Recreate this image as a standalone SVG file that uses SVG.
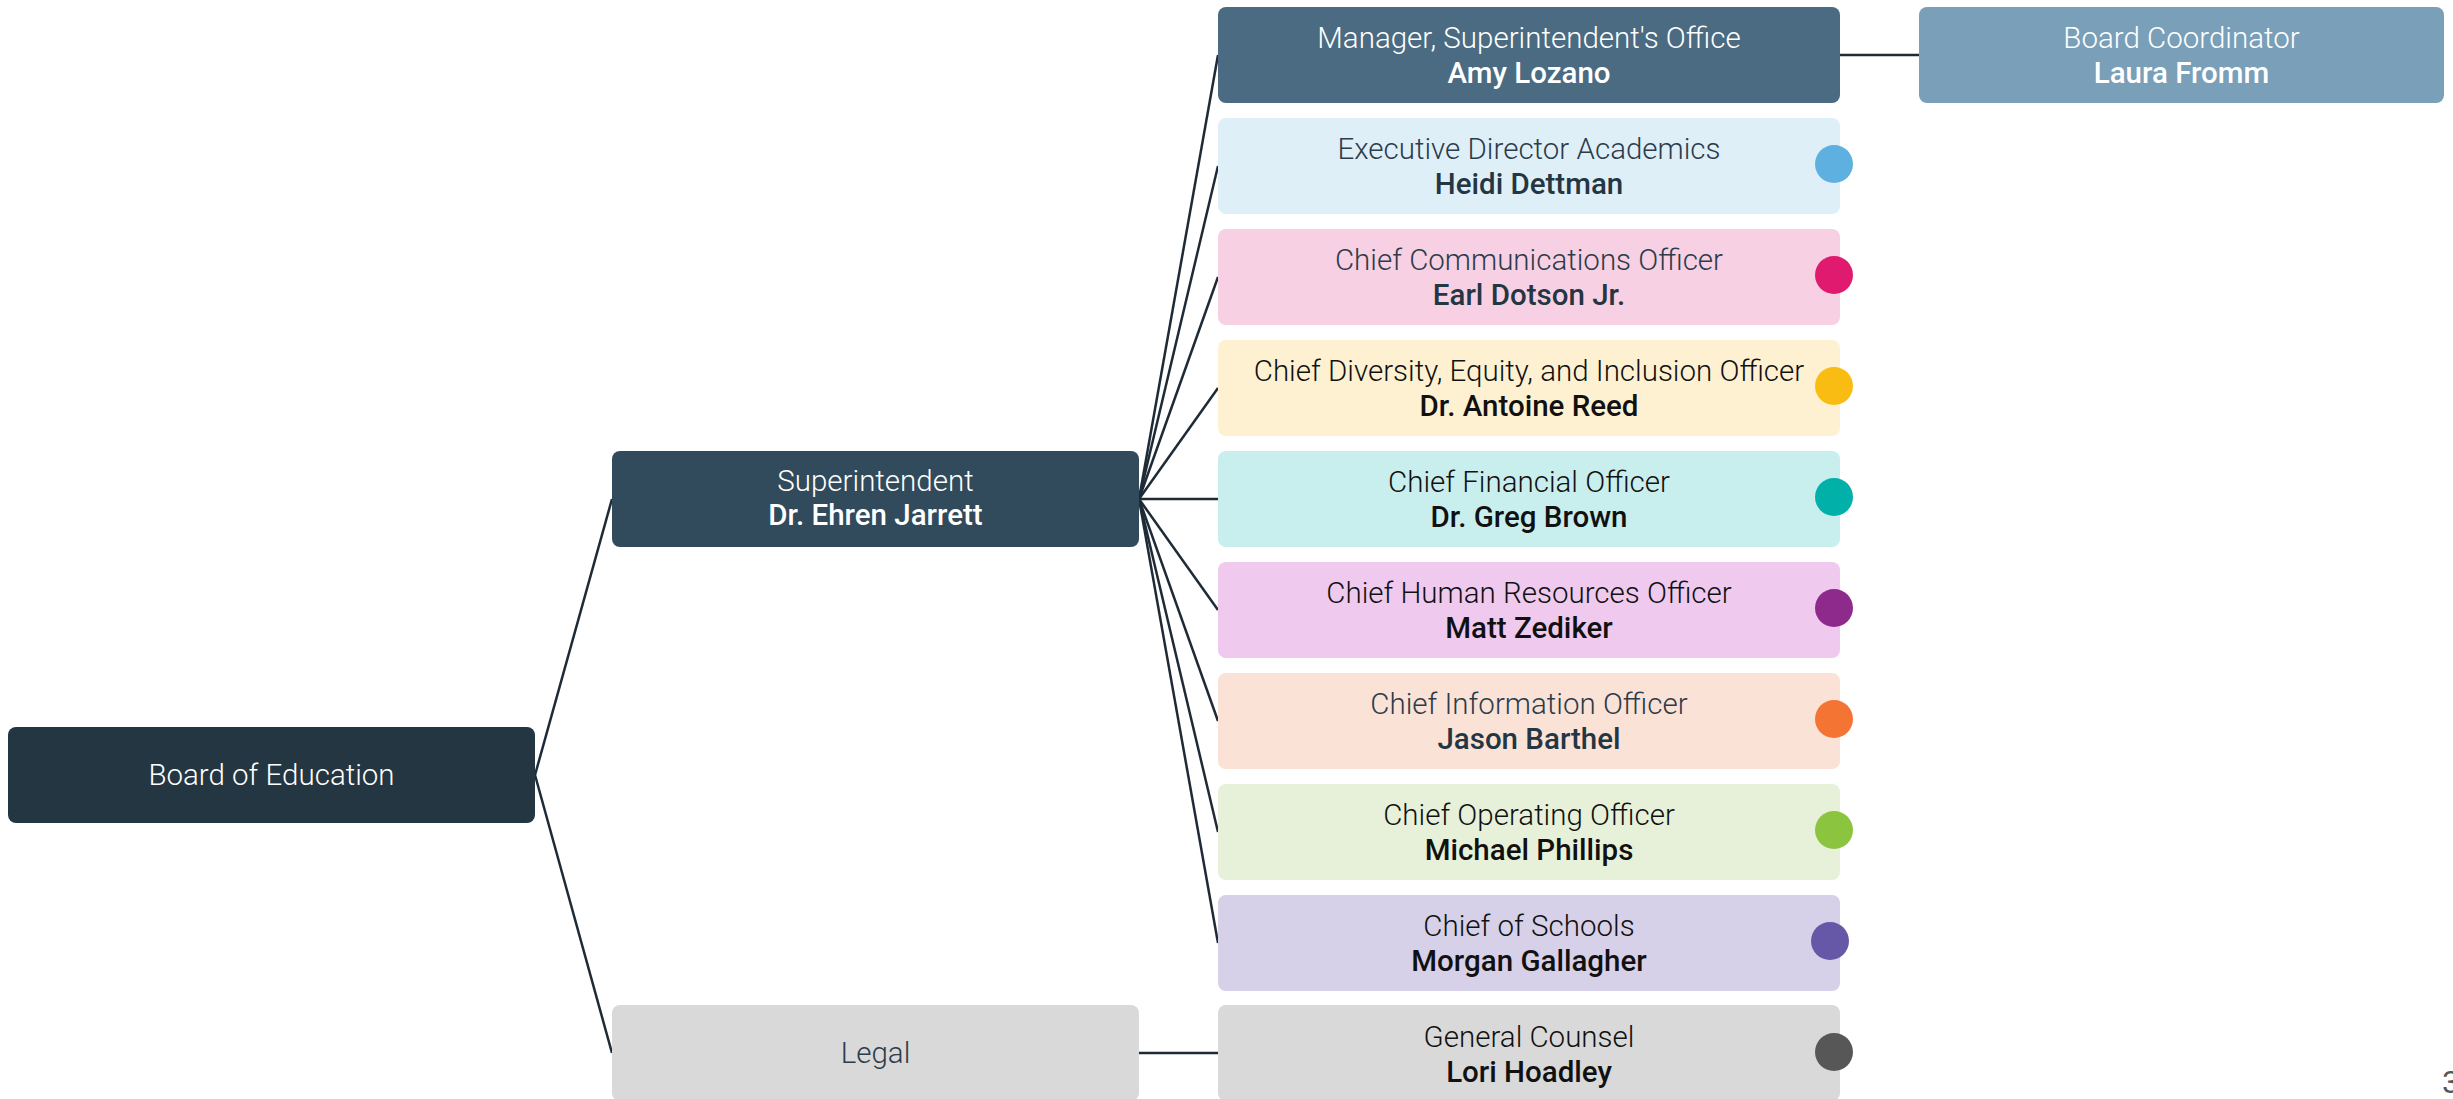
<svg xmlns="http://www.w3.org/2000/svg" width="2453" height="1099" viewBox="0 0 2453 1099">
<style>
.t{font-family:Roboto,"Liberation Sans",sans-serif;font-size:29.5px;font-weight:300;text-anchor:middle}
.n{font-family:Roboto,"Liberation Sans",sans-serif;font-size:29.5px;font-weight:500;text-anchor:middle}
.w{fill:#ffffff}
.d{fill:#2c3c4a}
.dn{fill:#243642}
.k{fill:#111111}
.c{stroke:#1e2b36;stroke-width:2.5;fill:none}
</style>
<rect width="2453" height="1099" fill="#ffffff"/>
<g id="connectors">
<line class="c" x1="535" y1="775" x2="612" y2="499"/>
<line class="c" x1="535" y1="775" x2="612" y2="1053"/>
<line class="c" x1="1139" y1="499" x2="1218" y2="55"/>
<line class="c" x1="1139" y1="499" x2="1218" y2="166"/>
<line class="c" x1="1139" y1="499" x2="1218" y2="277"/>
<line class="c" x1="1139" y1="499" x2="1218" y2="388"/>
<line class="c" x1="1139" y1="499" x2="1218" y2="499"/>
<line class="c" x1="1139" y1="499" x2="1218" y2="610"/>
<line class="c" x1="1139" y1="499" x2="1218" y2="721"/>
<line class="c" x1="1139" y1="499" x2="1218" y2="832"/>
<line class="c" x1="1139" y1="499" x2="1218" y2="943"/>
<line class="c" x1="1840" y1="55" x2="1919" y2="55"/>
<line class="c" x1="1139" y1="1053" x2="1218" y2="1053"/>
</g>
<g id="board">
<rect x="8" y="727" width="527" height="96" rx="8" fill="#243642"/>
<text class="t w" x="271.5" y="785">Board of Education</text>
</g>
<g id="superintendent">
<rect x="612" y="451" width="527" height="96" rx="8" fill="#314a5c"/>
<text class="t w" x="875.5" y="491">Superintendent</text>
<text class="n w" x="875.5" y="525">Dr. Ehren Jarrett</text>
</g>
<g id="legal">
<rect x="612" y="1005" width="527" height="96" rx="8" fill="#d9d9d9"/>
<text class="t d" x="875.5" y="1063">Legal</text>
</g>
<g id="manager">
<rect x="1218" y="7" width="622" height="96" rx="8" fill="#4a6b82"/>
<text class="t w" x="1529" y="48">Manager, Superintendent's Office</text>
<text class="n w" x="1529" y="83">Amy Lozano</text>
</g>
<g id="board-coordinator">
<rect x="1919" y="7" width="525" height="96" rx="8" fill="#7a9fb8"/>
<text class="t w" x="2181.5" y="48">Board Coordinator</text>
<text class="n w" x="2181.5" y="83">Laura Fromm</text>
</g>
<g id="academics">
<rect x="1218" y="118" width="622" height="96" rx="8" fill="#dfeff8"/>
<circle cx="1834" cy="164" r="19" fill="#5eb0e0"/>
<text class="t d" x="1529" y="159">Executive Director Academics</text>
<text class="n dn" x="1529" y="194">Heidi Dettman</text>
</g>
<g id="communications">
<rect x="1218" y="229" width="622" height="96" rx="8" fill="#f8d0e3"/>
<circle cx="1834" cy="275" r="19" fill="#e01a6e"/>
<text class="t d" x="1529" y="270">Chief Communications Officer</text>
<text class="n dn" x="1529" y="305">Earl Dotson Jr.</text>
</g>
<g id="dei">
<rect x="1218" y="340" width="622" height="96" rx="8" fill="#fef1d2"/>
<circle cx="1834" cy="386" r="19" fill="#f8bc12"/>
<text class="t k" x="1529" y="381">Chief Diversity, Equity, and Inclusion Officer</text>
<text class="n k" x="1529" y="416">Dr. Antoine Reed</text>
</g>
<g id="financial">
<rect x="1218" y="451" width="622" height="96" rx="8" fill="#c9eeee"/>
<circle cx="1834" cy="497" r="19" fill="#00b0a9"/>
<text class="t k" x="1529" y="492">Chief Financial Officer</text>
<text class="n k" x="1529" y="527">Dr. Greg Brown</text>
</g>
<g id="hr">
<rect x="1218" y="562" width="622" height="96" rx="8" fill="#efcaee"/>
<circle cx="1834" cy="608" r="19" fill="#8e2a8b"/>
<text class="t k" x="1529" y="603">Chief Human Resources Officer</text>
<text class="n k" x="1529" y="638">Matt Zediker</text>
</g>
<g id="information">
<rect x="1218" y="673" width="622" height="96" rx="8" fill="#fbe2d7"/>
<circle cx="1834" cy="719" r="19" fill="#f47433"/>
<text class="t d" x="1529" y="714">Chief Information Officer</text>
<text class="n dn" x="1529" y="749">Jason Barthel</text>
</g>
<g id="operating">
<rect x="1218" y="784" width="622" height="96" rx="8" fill="#e7f1da"/>
<circle cx="1834" cy="830" r="19" fill="#8bc43f"/>
<text class="t k" x="1529" y="825">Chief Operating Officer</text>
<text class="n k" x="1529" y="860">Michael Phillips</text>
</g>
<g id="schools">
<rect x="1218" y="895" width="622" height="96" rx="8" fill="#d6d0e8"/>
<circle cx="1830" cy="941" r="19" fill="#6658a6"/>
<text class="t k" x="1529" y="936">Chief of Schools</text>
<text class="n k" x="1529" y="971">Morgan Gallagher</text>
</g>
<g id="counsel">
<rect x="1218" y="1005" width="622" height="96" rx="8" fill="#d9d9d9"/>
<circle cx="1834" cy="1052" r="19" fill="#575757"/>
<text class="t k" x="1529" y="1047">General Counsel</text>
<text class="n k" x="1529" y="1082">Lori Hoadley</text>
</g>
<text x="2442" y="1093" font-family="Roboto,'Liberation Sans',sans-serif" font-size="32" fill="#555555">3</text>
</svg>
